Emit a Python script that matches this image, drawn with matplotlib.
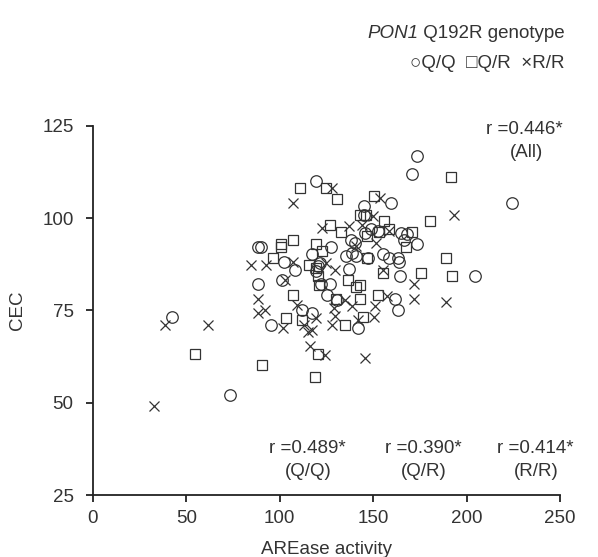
import matplotlib
matplotlib.use("Agg")
import matplotlib.pyplot as plt

plt.rcParams['font.family'] = ['Liberation Sans', 'DejaVu Sans']

# Q/Q genotype (circles)
qq_x = [42.5, 73.4, 88.3, 89.7, 88.3, 95.1, 102.2, 101.2, 108.1, 112.0, 117.1, 117.1,
        119.4, 119.6, 120.2, 121.6, 122.0, 127.3, 125.3, 126.7, 130.8, 135.5, 137.2,
        138.0, 138.5, 140.0, 141.0, 142.0, 145.0, 145.0, 145.5, 147.0, 149.0, 152.3,
        155.0, 159.4, 158.4, 161.5, 163.1, 163.5, 164.0, 164.6, 165.0, 166.6, 168.2,
        171.0, 173.7, 173.3, 204.4, 224.2]
qq_y = [73.2, 52.1, 92.2, 92.2, 82.3, 71.2, 88.2, 83.4, 86.1, 75.2, 74.3, 90.2,
        110.2, 85.6, 87.0, 87.9, 82.3, 92.2, 79.3, 82.3, 77.9, 89.9, 86.3,
        94.2, 90.5, 93.3, 89.7, 70.2, 103.3, 101.0, 96.0, 89.3, 97.0, 96.5,
        90.2, 104.2, 89.3, 78.1, 75.2, 89.3, 88.1, 84.3, 96.0, 94.2, 95.6,
        112.1, 117.0, 93.1, 84.3, 104.2]

# Q/R genotype (squares)
qr_x = [54.6, 90.6, 96.1, 100.6, 100.6, 107.3, 107.3, 103.2, 110.6, 112.0, 115.8,
        118.8, 119.2, 119.6, 120.6, 121.2, 120.6, 122.6, 124.7, 127.1, 130.8, 130.2,
        132.5, 134.9, 136.3, 141.0, 143.1, 143.1, 142.7, 144.5, 146.2, 146.6, 146.6,
        150.2, 152.3, 155.0, 156.0, 158.4, 167.6, 170.7, 175.8, 180.5, 189.1, 191.7,
        192.2, 153.0]
qr_y = [63.2, 60.1, 89.1, 93.1, 92.2, 94.2, 79.3, 73.0, 108.1, 72.3, 87.3,
        57.1, 93.1, 86.5, 84.3, 82.0, 63.2, 91.1, 108.1, 98.1, 105.1, 78.1,
        96.2, 71.2, 83.4, 81.4, 101.0, 82.0, 78.1, 73.2, 101.0, 95.1, 89.1,
        106.0, 79.3, 85.2, 99.2, 97.2, 92.2, 96.2, 85.2, 99.2, 89.1, 111.2,
        84.3, 96.2]

# R/R genotype (crosses)
rr_x = [32.7, 38.8, 61.7, 84.8, 92.6, 88.5, 88.5, 92.0, 101.8, 102.8, 107.3, 107.3,
        109.4, 112.8, 115.0, 115.9, 117.5, 119.6, 122.6, 124.7, 124.1, 127.8, 129.4,
        129.2, 129.4, 127.8, 135.0, 137.0, 138.4, 141.0, 142.0, 145.5, 149.8, 151.3,
        151.0, 150.2, 153.9, 155.0, 157.4, 158.4, 171.7, 171.7, 189.1, 193.2, 144.0]
rr_y = [49.2, 71.2, 71.2, 87.2, 87.2, 78.2, 74.3, 75.2, 70.2, 83.4, 104.2, 88.2,
        76.6, 71.2, 69.2, 65.3, 69.8, 73.0, 97.4, 87.9, 63.0, 108.1, 86.1,
        75.7, 73.4, 71.2, 77.9, 98.0, 76.1, 92.4, 72.5, 62.1, 100.6, 93.3,
        76.1, 73.2, 105.4, 86.1, 78.8, 96.5, 82.2, 78.1, 77.3, 101.0, 98.1]

x_ticks = [0, 50, 100, 150, 200, 250]
y_ticks = [25, 50, 75, 100, 125]

col = '#333333'
fs = 13.5
fig = plt.figure(figsize=(5.98, 5.57), dpi=100)
ax = fig.add_axes([0.1555, 0.1113, 0.7810, 0.6625])

ax.plot(qq_x, qq_y, linestyle='none', marker='o', markersize=8.3, markerfacecolor='none',
        markeredgecolor=col, markeredgewidth=0.9)
ax.plot(qr_x, qr_y, linestyle='none', marker='s', markersize=7.5, markerfacecolor='none',
        markeredgecolor=col, markeredgewidth=0.9)
ax.plot(rr_x, rr_y, linestyle='none', marker='x', markersize=7, markerfacecolor='none',
        markeredgecolor=col, markeredgewidth=0.9)

ax.set_xlim(0, 250)
ax.set_ylim(25, 125)
ax.set_xticks(x_ticks)
ax.set_yticks(y_ticks)
for s in ['top', 'right']:
    ax.spines[s].set_visible(False)
for s in ['left', 'bottom']:
    ax.spines[s].set_linewidth(1.3)
    ax.spines[s].set_color('#222222')
ax.tick_params(direction='out', length=5, width=1.3, color='#222222', labelsize=fs,
               labelcolor='#333333')
ax.tick_params(axis='x', pad=6)
ax.tick_params(axis='y', pad=9)
ax.set_xlabel('AREase activity', fontsize=fs, color='#333333', labelpad=10)
ax.set_ylabel('CEC', fontsize=fs, color='#333333', labelpad=12)

ax.text(231, 124.1, 'r =0.446*', ha='center', va='center', fontsize=fs, color=col)
ax.text(232, 117.8, '(All)', ha='center', va='center', fontsize=fs, color=col)
for xc, r, g in [(114.5, 'r =0.489*', '(Q/Q)'), (176.8, 'r =0.390*', '(Q/R)'),
                 (237.0, 'r =0.414*', '(R/R)')]:
    ax.text(xc, 37.7, r, ha='center', va='center', fontsize=fs, color=col)
    ax.text(xc + 0.5, 31.3, g, ha='center', va='center', fontsize=fs, color=col)

t1 = fig.text(565/598, 1 - 33/557, ' Q192R genotype', ha='right', va='center',
              fontsize=fs, color=col)
fig.canvas.draw()
bb = t1.get_window_extent(renderer=fig.canvas.get_renderer())
fig.text(bb.x0 / fig.bbox.width, 1 - 33/557, 'PON1', ha='right', va='center',
         fontsize=fs, color=col, style='italic')
fig.text(565/598, 1 - 63/557, '\u25cbQ/Q  \u25a1Q/R  \u00d7R/R', ha='right', va='center',
         fontsize=fs, color=col)

fig.savefig('out.png', dpi=100)
